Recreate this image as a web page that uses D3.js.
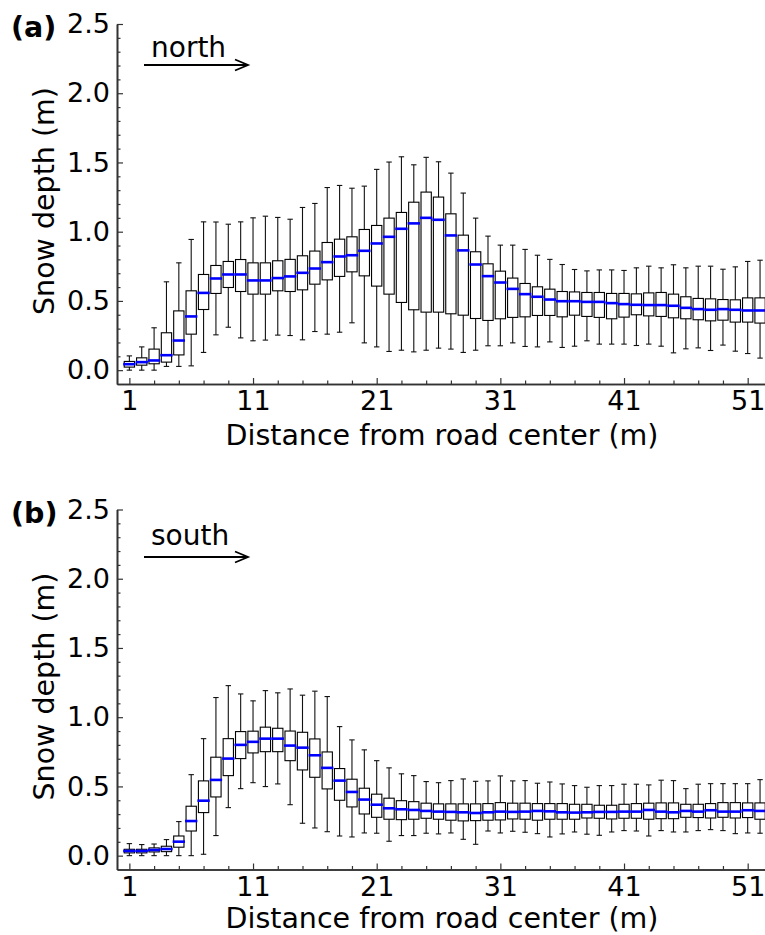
<!DOCTYPE html>
<html>
<head>
<meta charset="utf-8">
<script src="https://cdn.jsdelivr.net/npm/d3@7"></script>
<style>
  html, body { margin: 0; padding: 0; background: #fff; }
  svg text { font-family: "DejaVu Sans", sans-serif; fill: #000; }
</style>
</head>
<body>
<div id="chart"></div>
<script>
"use strict";

/* global d3 */

// distance from road center (m), one box per metre
var distances = d3.range(1, 53);

// north side: whisker low, q1, median, q3, whisker high
var northLow = [0.00, 0.00, 0.00, 0.027, 0.027, 0.031, 0.128, 0.255, 0.310, 0.233,
  0.212, 0.217, 0.253, 0.250, 0.219, 0.279, 0.260, 0.274, 0.342, 0.197,
  0.168, 0.135, 0.144, 0.132, 0.144, 0.159, 0.152, 0.128, 0.144, 0.176,
  0.176, 0.197, 0.171, 0.168, 0.204, 0.164, 0.173, 0.212, 0.188, 0.188,
  0.188, 0.178, 0.188, 0.173, 0.125, 0.154, 0.161, 0.142, 0.181, 0.137,
  0.120, 0.087];
var northQ1 = [0.022, 0.036, 0.046, 0.058, 0.110, 0.260, 0.438, 0.554, 0.597, 0.568,
  0.549, 0.549, 0.573, 0.568, 0.580, 0.621, 0.652, 0.677, 0.710, 0.681,
  0.607, 0.549, 0.489, 0.436, 0.419, 0.419, 0.407, 0.397, 0.373, 0.359,
  0.371, 0.381, 0.385, 0.395, 0.395, 0.385, 0.397, 0.388, 0.381, 0.371,
  0.383, 0.400, 0.392, 0.388, 0.378, 0.371, 0.364, 0.356, 0.361, 0.347,
  0.347, 0.340];
var northMedian = [0.043, 0.058, 0.070, 0.108, 0.214, 0.388, 0.558, 0.662, 0.691, 0.691,
  0.648, 0.648, 0.665, 0.677, 0.703, 0.734, 0.780, 0.821, 0.830, 0.862,
  0.915, 0.963, 1.021, 1.060, 1.100, 1.086, 0.973, 0.865, 0.763, 0.679,
  0.633, 0.587, 0.549, 0.530, 0.510, 0.498, 0.498, 0.493, 0.493, 0.484,
  0.477, 0.472, 0.470, 0.470, 0.465, 0.450, 0.441, 0.436, 0.441, 0.436,
  0.431, 0.431];
var northQ3 = [0.063, 0.089, 0.152, 0.270, 0.428, 0.573, 0.691, 0.756, 0.785, 0.799,
  0.775, 0.775, 0.790, 0.800, 0.826, 0.860, 0.922, 0.946, 0.963, 1.016,
  1.045, 1.098, 1.139, 1.213, 1.286, 1.250, 1.129, 0.975, 0.855, 0.768,
  0.715, 0.665, 0.626, 0.602, 0.585, 0.568, 0.565, 0.561, 0.561, 0.554,
  0.554, 0.551, 0.558, 0.561, 0.549, 0.530, 0.518, 0.515, 0.510, 0.508,
  0.522, 0.522];
var northHigh = [0.103, 0.168, 0.306, 0.638, 0.775, 0.944, 1.071, 1.070, 1.054, 1.071,
  1.100, 1.112, 1.103, 1.090, 1.175, 1.204, 1.319, 1.334, 1.314, 1.329,
  1.450, 1.503, 1.541, 1.483, 1.537, 1.505, 1.423, 1.279, 1.098, 0.968,
  0.903, 0.903, 0.872, 0.830, 0.800, 0.763, 0.727, 0.717, 0.724, 0.724,
  0.720, 0.739, 0.751, 0.739, 0.761, 0.739, 0.751, 0.751, 0.729, 0.746,
  0.785, 0.794];

// south side
var southLow = [0.00, 0.00, 0.00, 0.00, 0.00, 0.00, 0.010, 0.145, 0.347, 0.484,
  0.527, 0.499, 0.518, 0.368, 0.234, 0.200, 0.173, 0.142, 0.135, 0.164,
  0.162, 0.104, 0.145, 0.145, 0.162, 0.157, 0.164, 0.118, 0.082, 0.178,
  0.164, 0.176, 0.169, 0.159, 0.135, 0.157, 0.171, 0.155, 0.147, 0.171,
  0.181, 0.178, 0.142, 0.181, 0.171, 0.171, 0.181, 0.188, 0.181, 0.159,
  0.164, 0.162];
var southQ1 = [0.020, 0.020, 0.027, 0.029, 0.061, 0.178, 0.311, 0.424, 0.578, 0.701,
  0.742, 0.751, 0.751, 0.686, 0.619, 0.566, 0.482, 0.400, 0.352, 0.301,
  0.277, 0.263, 0.260, 0.263, 0.270, 0.263, 0.256, 0.251, 0.253, 0.256,
  0.258, 0.265, 0.263, 0.256, 0.263, 0.263, 0.263, 0.272, 0.270, 0.265,
  0.270, 0.270, 0.263, 0.267, 0.267, 0.277, 0.275, 0.272, 0.277, 0.272,
  0.275, 0.263];
var southMedian = [0.034, 0.034, 0.041, 0.048, 0.101, 0.250, 0.397, 0.547, 0.701, 0.800,
  0.822, 0.845, 0.845, 0.795, 0.780, 0.725, 0.634, 0.542, 0.460, 0.405,
  0.368, 0.342, 0.335, 0.330, 0.323, 0.318, 0.316, 0.313, 0.308, 0.313,
  0.318, 0.316, 0.318, 0.323, 0.320, 0.313, 0.311, 0.313, 0.316, 0.316,
  0.318, 0.318, 0.330, 0.318, 0.313, 0.323, 0.318, 0.328, 0.318, 0.318,
  0.328, 0.323];
var southQ3 = [0.046, 0.046, 0.056, 0.068, 0.142, 0.357, 0.540, 0.711, 0.845, 0.896,
  0.899, 0.928, 0.920, 0.900, 0.891, 0.843, 0.749, 0.629, 0.552, 0.487,
  0.444, 0.415, 0.397, 0.390, 0.379, 0.374, 0.374, 0.374, 0.374, 0.376,
  0.383, 0.379, 0.379, 0.376, 0.376, 0.376, 0.371, 0.371, 0.364, 0.364,
  0.371, 0.376, 0.379, 0.381, 0.381, 0.371, 0.371, 0.376, 0.383, 0.383,
  0.381, 0.381];
var southHigh = [0.087, 0.080, 0.084, 0.116, 0.246, 0.585, 0.845, 1.142, 1.228, 1.168,
  1.118, 1.192, 1.176, 1.204, 1.159, 1.188, 1.149, 0.932, 0.836, 0.764,
  0.686, 0.634, 0.591, 0.578, 0.535, 0.527, 0.542, 0.554, 0.537, 0.540,
  0.576, 0.540, 0.542, 0.523, 0.532, 0.518, 0.506, 0.494, 0.506, 0.506,
  0.516, 0.516, 0.511, 0.545, 0.542, 0.484, 0.516, 0.520, 0.520, 0.520,
  0.520, 0.549];

var xTickValues = [1, 11, 21, 31, 41, 51];
var yTickValues = [0, 0.5, 1.0, 1.5, 2.0, 2.5];

var width = 765;
var height = 935;

var svg = d3.select('#chart').append('svg')
  .attr('width', width)
  .attr('height', height);

function drawPanel(opts) {
  var left = 117, right = 765;
  var x = d3.scaleLinear().domain([0, 52.4]).range([left, right]);
  var y = d3.scaleLinear().domain([-0.1, 2.5]).range([opts.bottom, opts.top]);
  var boxW = 10.3, capW = 5.4;
  var step = x(2) - x(1);

  var g = svg.append('g');

  var rows = distances.map(function (d, i) {
    return { d: d, lo: opts.low[i], q1: opts.q1[i], med: opts.median[i], q3: opts.q3[i], hi: opts.high[i] };
  });

  var box = g.selectAll('g.box').data(rows).enter().append('g').attr('class', 'box');

  // whiskers
  box.append('line')
    .attr('x1', function (r) { return x(r.d); }).attr('x2', function (r) { return x(r.d); })
    .attr('y1', function (r) { return y(r.q3); }).attr('y2', function (r) { return y(r.hi); })
    .attr('stroke', '#111').attr('stroke-width', 1.1);
  box.append('line')
    .attr('x1', function (r) { return x(r.d); }).attr('x2', function (r) { return x(r.d); })
    .attr('y1', function (r) { return y(r.q1); }).attr('y2', function (r) { return y(r.lo); })
    .attr('stroke', '#111').attr('stroke-width', 1.1);
  // caps
  box.append('line')
    .attr('x1', function (r) { return x(r.d) - capW / 2; }).attr('x2', function (r) { return x(r.d) + capW / 2; })
    .attr('y1', function (r) { return y(r.hi); }).attr('y2', function (r) { return y(r.hi); })
    .attr('stroke', '#111').attr('stroke-width', 1.1);
  box.append('line')
    .attr('x1', function (r) { return x(r.d) - capW / 2; }).attr('x2', function (r) { return x(r.d) + capW / 2; })
    .attr('y1', function (r) { return y(r.lo); }).attr('y2', function (r) { return y(r.lo); })
    .attr('stroke', '#111').attr('stroke-width', 1.1);
  // boxes
  box.append('rect')
    .attr('x', function (r) { return x(r.d) - boxW / 2; })
    .attr('y', function (r) { return y(r.q3); })
    .attr('width', boxW)
    .attr('height', function (r) { return y(r.q1) - y(r.q3); })
    .attr('fill', 'none').attr('stroke', '#000').attr('stroke-width', 1.1);
  // medians
  box.append('line')
    .attr('x1', function (r) { return x(r.d) - step / 2; }).attr('x2', function (r) { return x(r.d) + step / 2; })
    .attr('y1', function (r) { return y(r.med); }).attr('y2', function (r) { return y(r.med); })
    .attr('stroke', '#0000ff').attr('stroke-width', 2.6);

  // axes, ticks pointing inward
  var xMinor = d3.range(1, 53, 2).filter(function (v) { return xTickValues.indexOf(v) < 0; });
  var yMinor = d3.range(1, 25).map(function (v) { return v / 10; }).filter(function (v) { return Math.abs(v * 2 - Math.round(v * 2)) > 1e-6; });

  g.append('g').attr('transform', 'translate(0,' + opts.bottom + ')')
    .call(d3.axisBottom(x).tickValues(xMinor).tickSize(-3.5).tickSizeOuter(0).tickFormat(''));
  g.append('g').attr('transform', 'translate(' + left + ',0)')
    .call(d3.axisLeft(y).tickValues(yMinor).tickSize(-3.5).tickSizeOuter(0).tickFormat(''));

  var xa = g.append('g').attr('transform', 'translate(0,' + opts.bottom + ')')
    .call(d3.axisBottom(x).tickValues(xTickValues).tickSize(-6).tickSizeOuter(0).tickPadding(7));
  var ya = g.append('g').attr('transform', 'translate(' + left + ',0)')
    .call(d3.axisLeft(y).tickValues(yTickValues).tickSize(-6).tickSizeOuter(0).tickPadding(7)
      .tickFormat(d3.format('.1f')));

  g.selectAll('.domain').attr('stroke', '#333').attr('stroke-width', 1.6);
  g.selectAll('.tick line').attr('stroke', '#333').attr('stroke-width', 1.2);
  xa.selectAll('text').attr('font-size', 27).attr('font-family', 'DejaVu Sans').attr('dy', '0.72em');
  ya.selectAll('text').attr('font-size', 27).attr('font-family', 'DejaVu Sans');

  g.append('text')
    .attr('x', (left + 765) / 2 + 1).attr('y', opts.titleY)
    .attr('text-anchor', 'middle').attr('font-size', 28.5)
    .text('Distance from road center (m)');

  g.append('text')
    .attr('transform', 'translate(54,' + ((opts.top + opts.bottom) / 2 - 3) + ') rotate(-90)')
    .attr('text-anchor', 'middle').attr('font-size', 28.5)
    .text('Snow depth (m)');

  g.append('text')
    .attr('x', 11).attr('y', opts.top + 13)
    .attr('font-size', 28.5).attr('font-weight', 'bold')
    .text(opts.tag);

  // direction arrow
  var ay = opts.arrowY;
  g.append('text')
    .attr('x', 151).attr('y', opts.labelY)
    .attr('font-size', 28)
    .text(opts.side);
  g.append('line')
    .attr('x1', 144).attr('x2', 248).attr('y1', ay).attr('y2', ay)
    .attr('stroke', '#000').attr('stroke-width', 1.8);
  g.append('path')
    .attr('d', 'M235,' + (ay - 5.5) + 'L248,' + ay + 'L235,' + (ay + 5.5))
    .attr('fill', 'none').attr('stroke', '#000').attr('stroke-width', 1.8);
}

drawPanel({ top: 24, bottom: 384, titleY: 445, tag: '(a)', side: 'north', labelY: 57, arrowY: 65,
  low: northLow, q1: northQ1, median: northMedian, q3: northQ3, high: northHigh });
drawPanel({ top: 509.5, bottom: 869.5, titleY: 927.5, tag: '(b)', side: 'south', labelY: 545, arrowY: 557,
  low: southLow, q1: southQ1, median: southMedian, q3: southQ3, high: southHigh });
</script>
</body>
</html>
